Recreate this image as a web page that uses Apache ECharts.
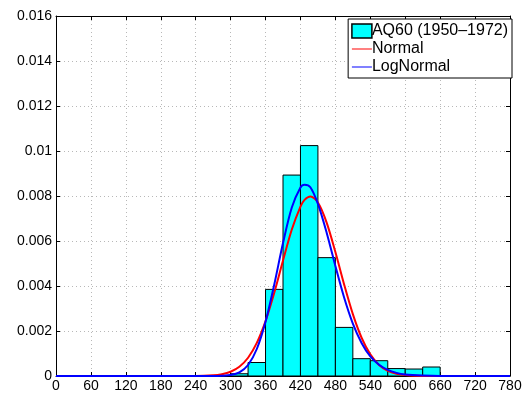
<!DOCTYPE html>
<html>
<head>
<meta charset="utf-8">
<script src="https://cdn.jsdelivr.net/npm/echarts@6/dist/echarts.min.js"></script>
<style>
  html, body { margin: 0; padding: 0; background: #fff; }
  #chart { width: 528px; height: 394px; }
</style>
</head>
<body>
<div id="chart"></div>
<script>
// histogram bins (density)
const binEdges = [300, 330, 360, 390, 420, 450, 480, 510, 540, 570, 600, 630, 660]
const binValues = [0.0001, 0.0006, 0.00385, 0.00893, 0.01024, 0.00526, 0.00216, 0.00077, 0.00068, 0.00033, 0.00031, 0.0004]

// fitted curves
const curveX = [0, 240, 270, 285, 300, 315, 330, 345, 360, 375, 390, 405, 420, 427, 437, 450, 465, 480, 495, 510, 525, 540, 555, 570, 585, 600, 630, 660, 780]
const normalY = [0, 0, 0.00003, 0.00008, 0.00019, 0.00041, 0.00081, 0.00147, 0.00244, 0.0037, 0.00513, 0.0065, 0.00753, 0.00783, 0.00798, 0.00771, 0.00682, 0.00551, 0.00407, 0.00275, 0.0017, 0.00096, 0.00049, 0.00023, 0.0001, 0.00004, 0, 0, 0]
const logNormalY = [0, 0, 0, 0.00001, 0.00004, 0.00016, 0.00049, 0.0012, 0.00241, 0.00407, 0.00591, 0.00748, 0.00838, 0.0085, 0.00839, 0.00765, 0.00637, 0.00489, 0.00349, 0.00233, 0.00147, 0.00087, 0.0005, 0.00027, 0.00014, 0.00007, 0.00002, 0, 0]

const seriesNames = ['AQ60 (1950–1972)', 'Normal', 'LogNormal']

const font = 'Liberation Sans, Arial, Helvetica, sans-serif'
// thin line legend icon (matlab style)
const lineIcon = 'path://M0,0 L20,0 L20,1 L0,1 Z'

const histData = binValues.map((v, i) => [binEdges[i], binEdges[i + 1], v])
const pairs = (xs, ys) => xs.map((x, i) => [x, ys[i]])

const chart = echarts.init(document.getElementById('chart'))

const axisBase = {
  axisLine: { show: true, onZero: false, lineStyle: { color: '#000', width: 1 } },
  axisTick: { show: true, inside: true, length: 4, lineStyle: { color: '#000' } }
}

chart.setOption({
  animation: false,
  backgroundColor: '#fff',
  grid: { left: 56, right: 18, top: 16, bottom: 18, containLabel: false },
  legend: {
    orient: 'vertical',
    right: 16,
    top: 19,
    padding: [4, 4, 3, 3],
    itemGap: 2,
    itemWidth: 20,
    itemHeight: 14,
    backgroundColor: '#fff',
    borderColor: '#000',
    borderWidth: 1,
    textStyle: { fontFamily: font, fontSize: 16, lineHeight: 16, color: '#000', padding: [0, 0, 0, -5] },
    data: [
      { name: seriesNames[0], icon: 'rect', itemStyle: { color: '#00ffff', borderColor: '#000000', borderWidth: 1.5 } },
      { name: seriesNames[1], icon: lineIcon },
      { name: seriesNames[2], icon: lineIcon }
    ],
    lineStyle: { width: 1 }
  },
  xAxis: [
    Object.assign({}, axisBase, {
      type: 'value', min: 0, max: 780, interval: 60, position: 'bottom',
      axisLabel: { fontFamily: font, fontSize: 14, color: '#000', margin: 3 },
      splitLine: { show: true, lineStyle: { color: '#b8b8b8', type: [1, 3] } }
    }),
    Object.assign({}, axisBase, {
      type: 'value', min: 0, max: 780, interval: 60, position: 'top',
      axisLabel: { show: false }, splitLine: { show: false }
    })
  ],
  yAxis: [
    Object.assign({}, axisBase, {
      type: 'value', min: 0, max: 0.016, interval: 0.002, position: 'left',
      axisLabel: {
        fontFamily: font, fontSize: 14, color: '#000', margin: 4,
        formatter: v => String(+v.toFixed(3))
      },
      splitLine: { show: true, lineStyle: { color: '#b8b8b8', type: [1, 3] } }
    }),
    Object.assign({}, axisBase, {
      type: 'value', min: 0, max: 0.016, interval: 0.002, position: 'right',
      axisLabel: { show: false }, splitLine: { show: false }
    })
  ],
  series: [
    {
      name: seriesNames[0],
      type: 'custom',
      z: 2,
      itemStyle: { color: '#00ffff', borderColor: '#000', borderWidth: 1 },
      encode: { x: [0, 1], y: 2 },
      data: histData,
      renderItem: (params, api) => {
        const p0 = api.coord([api.value(0), api.value(2)])
        const p1 = api.coord([api.value(1), 0])
        return {
          type: 'rect',
          shape: { x: p0[0], y: p0[1], width: p1[0] - p0[0], height: p1[1] - p0[1] },
          style: { fill: '#00ffff', stroke: '#000', lineWidth: 1 }
        }
      }
    },
    {
      name: seriesNames[1],
      type: 'line',
      z: 3,
      smooth: 0.3,
      symbol: 'none',
      color: '#ff0000',
      lineStyle: { color: '#ff0000', width: 2 },
      data: pairs(curveX, normalY)
    },
    {
      name: seriesNames[2],
      type: 'line',
      z: 4,
      smooth: 0.3,
      symbol: 'none',
      color: '#0000ff',
      lineStyle: { color: '#0000ff', width: 2 },
      data: pairs(curveX, logNormalY)
    }
  ]
})
</script>
</body>
</html>
